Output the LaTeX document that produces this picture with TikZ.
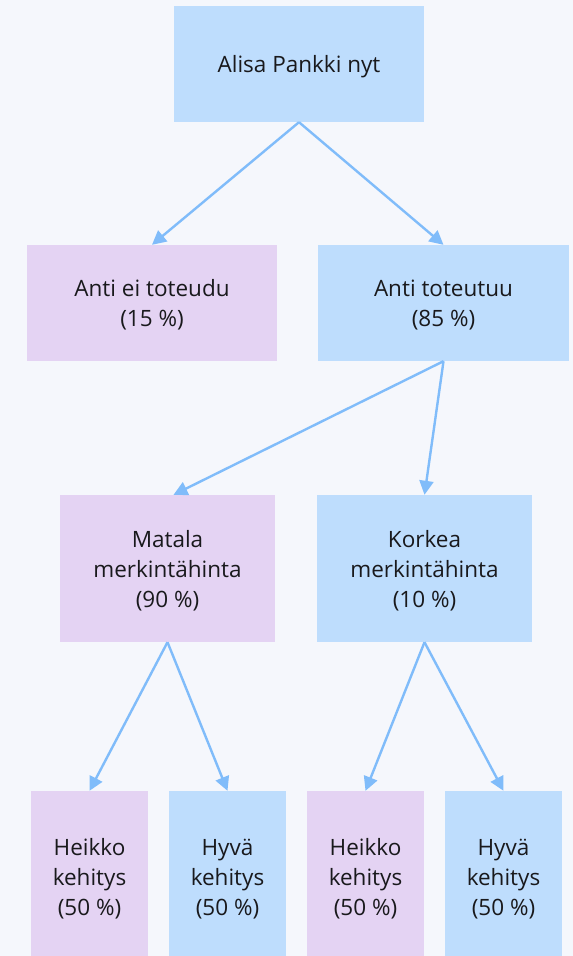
\documentclass[tikz,border=0pt]{standalone}
\usepackage{fontspec}
\setmainfont{Open Sans}
\usetikzlibrary{arrows.meta}
\definecolor{bgc}{RGB}{245,247,252}
\definecolor{boxblue}{RGB}{190,221,253}
\definecolor{boxpurple}{RGB}{228,211,243}
\definecolor{arrowc}{RGB}{128,188,250}
\definecolor{txt}{RGB}{25,25,28}
\tikzset{
  box/.style={rectangle, inner sep=0pt, align=center, text=txt, text depth=0pt,
    font=\fontsize{22.5}{30}\selectfont},
  bluebox/.style={box, fill=boxblue},
  purplebox/.style={box, fill=boxpurple},
  conn/.style={draw=arrowc, line width=2.4pt,
    -{Triangle[length=14pt,width=14pt]}, shorten >=0pt}
}
\begin{document}
\begin{tikzpicture}[x=1pt,y=-1pt]
\useasboundingbox (0,0) rectangle (573,956);
\clip (0,0) rectangle (573,956);
\fill[bgc] (0,0) rectangle (573,956);
\node[bluebox, minimum width=250pt, minimum height=116pt] (top) at (299,64) {Alisa Pankki nyt};
\node[purplebox, minimum width=250pt, minimum height=116pt] (a1) at (152,303) {Anti ei toteudu\\(15 \%)};
\node[bluebox, minimum width=251pt, minimum height=116pt] (a2) at (443.5,303) {Anti toteutuu\\(85 \%)};
\node[purplebox, minimum width=215pt, minimum height=147pt] (m) at (167.5,568.5) {Matala\\merkintähinta\\(90 \%)};
\node[bluebox, minimum width=215pt, minimum height=147pt] (k) at (424.5,568.5) {Korkea\\merkintähinta\\(10 \%)};
\node[purplebox, minimum width=117pt, minimum height=172pt] (b1) at (89.5,877) {Heikko\\kehitys\\(50 \%)};
\node[bluebox, minimum width=117pt, minimum height=172pt] (b2) at (227.5,877) {Hyvä\\kehitys\\(50 \%)};
\node[purplebox, minimum width=117pt, minimum height=172pt] (b3) at (365.5,877) {Heikko\\kehitys\\(50 \%)};
\node[bluebox, minimum width=117pt, minimum height=172pt] (b4) at (503.5,877) {Hyvä\\kehitys\\(50 \%)};
\draw[conn] (top.south) -- (a1.north);
\draw[conn] (top.south) -- (a2.north);
\draw[conn] (a2.south) -- ([xshift=6pt]m.north);
\draw[conn] (a2.south) -- (k.north);
\draw[conn] (m.south) -- (b1.north);
\draw[conn] (m.south) -- (b2.north);
\draw[conn] (k.south) -- (b3.north);
\draw[conn] (k.south) -- (b4.north);
\end{tikzpicture}
\end{document}
